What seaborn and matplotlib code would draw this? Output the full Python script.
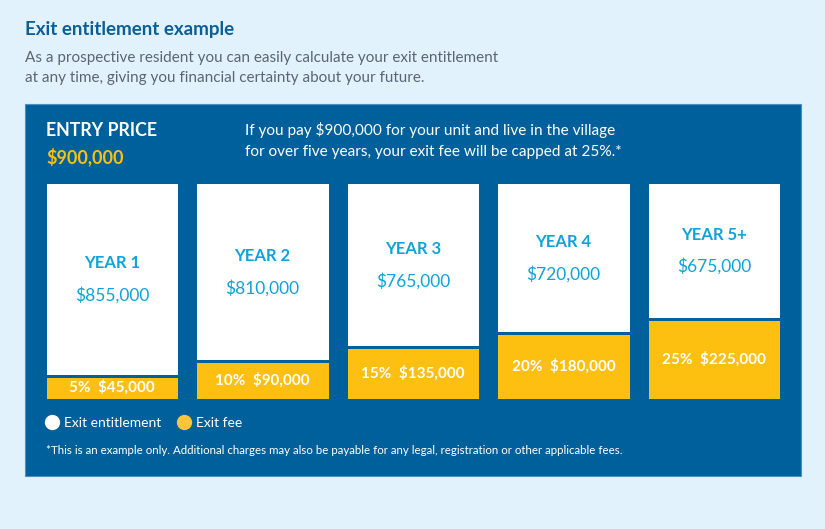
import numpy as np
import pandas as pd
import seaborn as sns
import matplotlib.pyplot as plt
from matplotlib.patches import Rectangle
from matplotlib.lines import Line2D

years = ['YEAR 1', 'YEAR 2', 'YEAR 3', 'YEAR 4', 'YEAR 5+']
entry_price = 900000
fee_pct = [5, 10, 15, 20, 25]
exit_fee = [45000, 90000, 135000, 180000, 225000]
entitlement = [855000, 810000, 765000, 720000, 675000]

bg = '#e1f2fc'
panel = '#00609b'
yellow = '#fdc010'
cyan = '#10a2da'
title_blue = '#0b5f98'

sns.set_theme(style='white')
plt.rcParams['font.family'] = ['Lato', 'DejaVu Sans']

df = pd.DataFrame({'year': years, 'fee': exit_fee, 'ent': entitlement})
df['total'] = df['fee'] + df['ent']

fig = plt.figure(figsize=(8.25, 5.29), dpi=100)
fig.patch.set_facecolor(bg)

# panel behind everything
fig.patches.append(Rectangle((25 / 825, 1 - 476 / 529), 776 / 825, 372 / 529,
                             transform=fig.transFigure, facecolor=panel,
                             edgecolor='#4f8fbf', linewidth=0.8, zorder=-5))

fig.text(25 / 825, 1 - 30 / 529, 'Exit entitlement example', fontsize=13.5,
         fontweight='bold', color=title_blue, va='center')
fig.text(25 / 825, 1 - 58 / 529, 'As a prospective resident you can easily calculate your exit entitlement',
         fontsize=11, color='#5b6670', va='center')
fig.text(25 / 825, 1 - 78 / 529, 'at any time, giving you financial certainty about your future.',
         fontsize=11, color='#5b6670', va='center')

fig.text(46 / 825, 1 - 131 / 529, 'ENTRY PRICE', fontsize=12.8, fontweight='bold',
         color='white', va='center')
fig.text(46 / 825, 1 - 157 / 529, '$900,000', fontsize=13, fontweight='bold',
         color=yellow, va='center')
fig.text(245 / 825, 1 - 130 / 529, 'If you pay $900,000 for your unit and live in the village',
         fontsize=11.1, color='white', va='center')
fig.text(245 / 825, 1 - 152 / 529, 'for over five years, your exit fee will be capped at 25%.*',
         fontsize=11.1, color='white', va='center')

ax = fig.add_axes([36.75 / 825, (529 - 399.5) / 529, 752.5 / 825, 218 / 529])
ax.set_zorder(2)
ax.set_facecolor('none')

sns.barplot(data=df, x='year', y='total', color='white', saturation=1,
            width=0.897, edgecolor=panel, linewidth=2.16, ax=ax)
sns.barplot(data=df, x='year', y='fee', color=yellow, saturation=1,
            width=0.897, edgecolor=panel, linewidth=2.16, ax=ax)

# display scale: fee segment exaggerated as in the original graphic
sv = [0, 45000, 225000, 900000]
sp = [0, 24, 81, 218]
fwd = lambda v: np.interp(v, sv, sp)
inv = lambda p: np.interp(p, sp, sv)
ax.set_yscale('function', functions=(fwd, inv))
ax.set_ylim(0, entry_price)
ax.set_xlim(-0.5, len(years) - 0.5)
ax.axis('off')

for i in range(len(years)):
    top_mid = inv((fwd(exit_fee[i]) + fwd(entry_price)) / 2)
    ax.annotate(years[i], (i, top_mid), xytext=(0, 11), textcoords='offset points',
                ha='center', va='center', fontsize=12, fontweight='bold', color=cyan)
    ax.annotate('${:,.0f}'.format(entitlement[i]), (i, top_mid), xytext=(0, -12),
                textcoords='offset points', ha='center', va='center', fontsize=12.5, color=cyan)
    fee_mid = inv(fwd(exit_fee[i]) / 2)
    ax.text(i, fee_mid, '{}%  ${:,.0f}'.format(fee_pct[i], exit_fee[i]), ha='center',
            va='center', fontsize=11, fontweight='bold', color='white')

handles = [Line2D([], [], marker='o', linestyle='', markersize=10, markerfacecolor='white',
                  markeredgecolor='white'),
           Line2D([], [], marker='o', linestyle='', markersize=10, markerfacecolor='#fec43a',
                  markeredgecolor='#fec43a')]
fig.legend(handles, ['Exit entitlement', 'Exit fee'], loc='center left',
           bbox_to_anchor=(33 / 825, 1 - 423 / 529), ncol=2, frameon=False,
           labelcolor='white', fontsize=10, handletextpad=0.35, columnspacing=1.1,
           handlelength=1.0)

fig.text(46 / 825, 1 - 450 / 529,
         '*This is an example only. Additional charges may also be payable for any legal, registration or other applicable fees.',
         fontsize=8.3, color='white', va='center')

fig.savefig('out.png', dpi=100, facecolor=bg)
